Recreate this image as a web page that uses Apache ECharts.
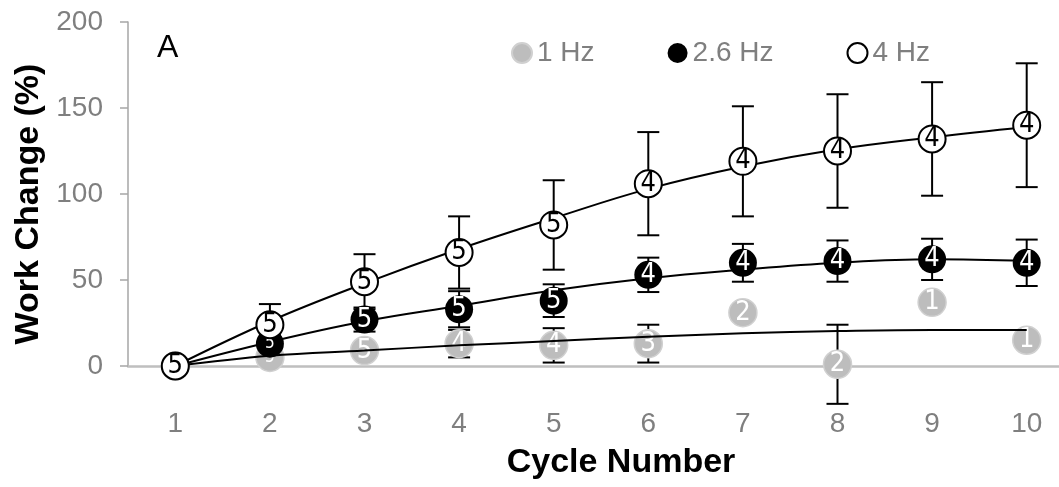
<!DOCTYPE html>
<html><head><meta charset="utf-8">
<script src="https://cdn.jsdelivr.net/npm/echarts@6/dist/echarts.min.js"></script>
<style>html,body{margin:0;padding:0;background:#fff}#c{width:1059px;height:487px}</style>
</head><body><div id="c"></div>
<script>
const cycles = ['1','2','3','4','5','6','7','8','9','10'];
const yTicks = [0, 50, 100, 150, 200];
// 1 Hz
const mean1 = [0, 5, 9, 13, 12, 13, 31, 1, 37, 15];
const sd1 = [null, 3, 4, 8, 10, 11, null, 23, null, null];
const n1 = [5, 5, 5, 4, 4, 3, 2, 2, 1, 1];
const trend1 = [0, 6, 9, 12, 14.5, 17, 19, 20.3, 21, 21];
// 2.6 Hz
const mean26 = [0, 13, 27, 33, 38, 53, 60, 61, 62, 60];
const sd26 = [null, 5, 7, 10.5, 9.5, 10, 11, 12, 12, 13.5];
const n26 = [5, 5, 5, 5, 5, 4, 4, 4, 4, 4];
const trend26 = [0, 14, 26, 35, 44, 51, 56, 60, 62, 61];
// 4 Hz
const mean4 = [0, 24, 49, 66, 82, 106, 119, 125, 132, 140];
const sd4 = [null, 12, 16, 21, 26, 30, 32, 33, 33, 36];
const n4 = [5, 5, 5, 5, 5, 4, 4, 4, 4, 4];
const trend4 = [0, 26, 48, 68, 86, 103, 116, 126, 133, 139];

const FONT = 'Liberation Sans';
const NUMFONT = '"Liberation Sans Narrow", "DejaVu Sans Condensed", "Liberation Sans"';

function errData(mean, sd) {
  const out = [];
  mean.forEach((m, i) => { if (sd[i] != null) out.push([i, m - sd[i], m + sd[i]]); });
  return out;
}
function renderErr(params, api) {
  const x = api.value(0), lo = api.value(1), hi = api.value(2);
  const a = api.coord([x, lo]), b = api.coord([x, hi]);
  const w = 11;
  const style = { stroke: '#000', lineWidth: 2 };
  return { type: 'group', children: [
    { type: 'line', shape: { x1: a[0], y1: a[1], x2: b[0], y2: b[1] }, style },
    { type: 'line', shape: { x1: a[0] - w, y1: a[1], x2: a[0] + w, y2: a[1] }, style },
    { type: 'line', shape: { x1: b[0] - w, y1: b[1], x2: b[0] + w, y2: b[1] }, style }
  ]};
}
function errSeries(name, mean, sd) {
  return { name, type: 'custom', renderItem: renderErr, data: errData(mean, sd),
    encode: { x: 0, y: [1, 2] }, z: 1, clip: false, silent: true };
}
function pts(mean, smallFirst) {
  return mean.map((m, i) => (smallFirst && i === 1) ? { value: m, label: { fontSize: 17 } } : { value: m });
}
function trendSeries(name, data) {
  return { name, type: 'line', data, smooth: 0.4, symbol: 'none', z: 3, silent: true,
    lineStyle: { color: '#000', width: 2 } };
}

const chart = echarts.init(document.getElementById('c'));
chart.setOption({
  animation: false,
  backgroundColor: '#fff',
  grid: { left: 128, right: -15, top: 22, bottom: 121, outerBoundsMode: 'none', containLabel: false },
  legend: {
    data: ['1 Hz', '2.6 Hz', '4 Hz'], left: 506, top: 34, itemGap: 73, icon: 'circle',
    itemWidth: 20, itemHeight: 20, selectedMode: false,
    textStyle: { color: '#7F7F7F', fontSize: 28, fontFamily: FONT }
  },
  graphic: [{ type: 'text', left: 157, top: 32, style: { text: 'A', fontSize: 32, fontFamily: FONT, fill: '#000' } }],
  xAxis: {
    type: 'category', data: cycles, boundaryGap: true,
    axisLine: { lineStyle: { color: '#BFBFBF', width: 2.5 } },
    axisTick: { show: false },
    axisLabel: { color: '#7F7F7F', fontSize: 28, fontFamily: FONT, margin: 44 },
    splitLine: { show: false },
    name: 'Cycle Number', nameLocation: 'middle', nameGap: 80,
    nameTextStyle: { color: '#000', fontSize: 34, fontWeight: 'bold', fontFamily: FONT, padding: [0, 0, 0, 40] }
  },
  yAxis: {
    type: 'value', min: yTicks[0], max: yTicks[yTicks.length - 1], interval: yTicks[1] - yTicks[0],
    axisLine: { show: true, lineStyle: { color: '#A6A6A6', width: 1.5 } },
    axisTick: { show: true, length: 8, lineStyle: { color: '#A6A6A6', width: 1.5 } },
    axisLabel: { color: '#7F7F7F', fontSize: 28, fontFamily: FONT, margin: 25 },
    splitLine: { show: false },
    name: 'Work Change (%)', nameLocation: 'middle', nameGap: 81, nameRotate: 90,
    nameTextStyle: { color: '#000', fontSize: 34, fontWeight: 'bold', fontFamily: FONT, padding: [0, 20, 0, 0] }
  },
  series: [
    errSeries('err1', mean1, sd1),
    errSeries('err26', mean26, sd26),
    errSeries('err4', mean4, sd4),
    { name: '1 Hz', type: 'scatter', data: pts(mean1, true), symbol: 'circle', symbolSize: 28, z: 2, clip: false,
      itemStyle: { color: '#BDBDBD', borderColor: '#D0D0D0', borderWidth: 1.5, opacity: 1 },
      label: { show: true, position: 'inside', color: '#fff', fontSize: 27, fontFamily: NUMFONT,
        formatter: p => String(n1[p.dataIndex]) } },
    trendSeries('t1', trend1),
    trendSeries('t26', trend26),
    trendSeries('t4', trend4),
    { name: '2.6 Hz', type: 'scatter', data: pts(mean26, true), symbol: 'circle', symbolSize: 28, z: 4, clip: false,
      itemStyle: { color: '#000', opacity: 1 },
      label: { show: true, position: 'inside', color: '#fff', fontSize: 27, fontFamily: NUMFONT,
        formatter: p => String(n26[p.dataIndex]) } },
    { name: '4 Hz', type: 'scatter', data: pts(mean4, false), symbol: 'circle', symbolSize: 27, z: 5, clip: false,
      itemStyle: { color: '#fff', borderColor: '#000', borderWidth: 2, opacity: 1 },
      label: { show: true, position: 'inside', color: '#000', fontSize: 27, fontFamily: NUMFONT,
        formatter: p => String(n4[p.dataIndex]) } }
  ]
});
</script>
</body></html>
